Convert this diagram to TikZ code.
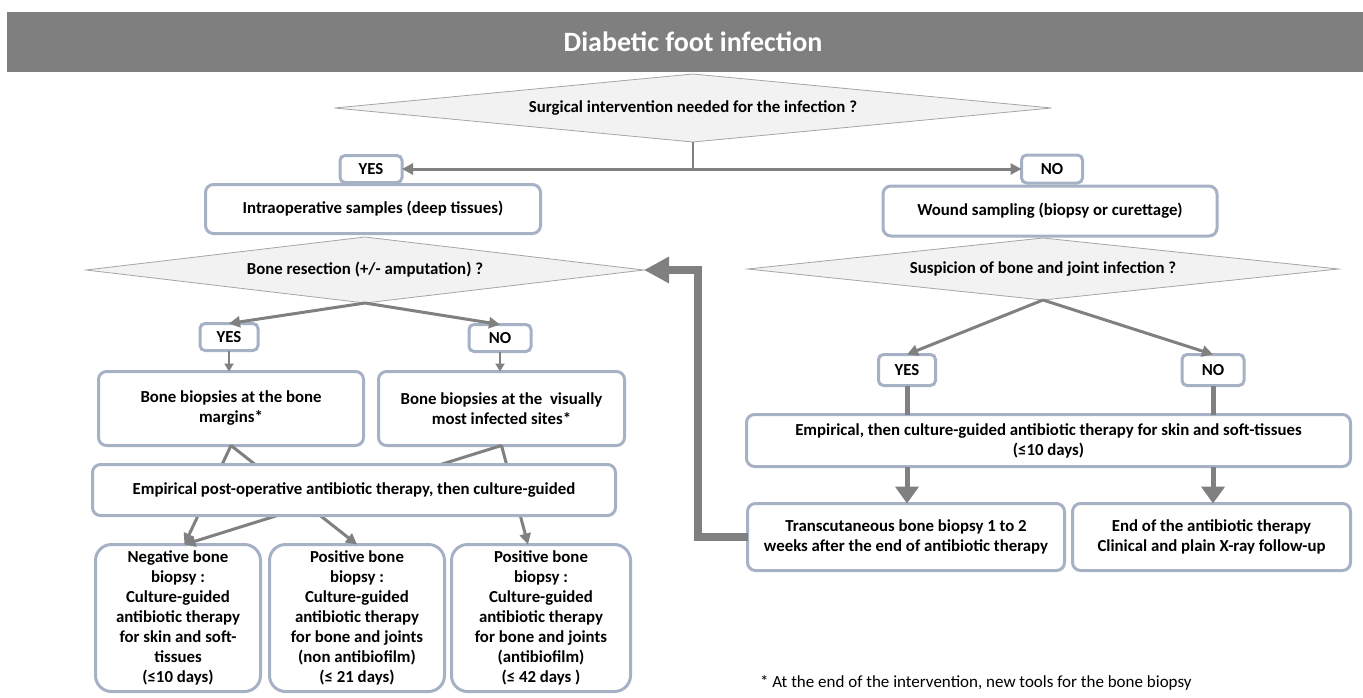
\documentclass[tikz,border=0pt]{standalone}
\usepackage{fontspec}
\setmainfont{Carlito}
\usetikzlibrary{shapes.geometric,arrows.meta}

\definecolor{bargray}{RGB}{127,127,127}
\definecolor{linegray}{RGB}{128,128,128}
\definecolor{boxedge}{RGB}{167,177,197}
\definecolor{diafill}{RGB}{242,242,242}
\definecolor{diaedge}{RGB}{165,165,165}

\begin{document}
\begin{tikzpicture}[x=1pt,y=-1pt,inner sep=0pt,outer sep=0pt,
font=\fontsize{16.8}{20}\selectfont\bfseries,
infobox/.style={draw=boxedge,fill=white,line width=3pt,rounded corners=8pt,rectangle,align=center},
resultbox/.style={infobox,rounded corners=16pt,minimum height=147pt},
choicebox/.style={draw=boxedge,fill=white,line width=3pt,rounded corners=5pt,rectangle},
decision/.style={draw=diaedge,fill=diafill,line width=0.8pt,diamond},
flowarrow/.style={draw=linegray,line width=3pt,-{Triangle[length=11pt,width=11pt]}},
smallarrow/.style={draw=linegray,line width=2.5pt,-{Triangle[length=8pt,width=9pt]}},
stubline/.style={draw=linegray,line width=5pt},
thickarrow/.style={draw=linegray,line width=5pt,-{Triangle[length=17pt,width=23pt]}},
backarrow/.style={draw=linegray,line width=8pt,line join=miter,-{Triangle[length=25pt,width=25pt]}}]

\useasboundingbox (0,0) rectangle (1363,697);

\draw (693,42) node[fill=bargray,minimum width=1372pt,minimum height=60pt,text=white,font=\fontsize{28}{30}\selectfont\bfseries] (title) {Diabetic foot infection};

\draw (693,108) node[decision,shape aspect=10.5,minimum width=717pt,minimum height=68pt] (surg) {Surgical intervention needed for the infection ?};
\coordinate (fork) at (693,169);
\draw (371,169) node[choicebox,minimum width=62pt,minimum height=27pt] (yes1) {YES};
\draw (1052,169) node[choicebox,minimum width=61pt,minimum height=28pt] (no1) {NO};
\draw[draw=linegray,line width=2.5pt] (surg.south) -- (fork);
\draw[flowarrow] (fork) -- (yes1.east);
\draw[flowarrow] (fork) -- (no1.west);

\draw (373,209) node[infobox,minimum width=335pt,minimum height=49pt] (intraop) {Intraoperative samples (deep tissues)};
\draw (1050,211) node[infobox,minimum width=334pt,minimum height=50pt] (wound) {Wound sampling (biopsy or curettage)};

\draw (365,270) node[decision,shape aspect=8.5,minimum width=558pt,minimum height=66pt] (boneres) {Bone resection (+/- amputation)~?};
\draw (1043,269) node[decision,shape aspect=9.5,minimum width=591pt,minimum height=62pt] (suspic) {Suspicion of bone and joint infection~?};

\draw (229,337) node[choicebox,minimum width=58pt,minimum height=27pt] (yes2) {YES};
\draw (500,338) node[choicebox,minimum width=62pt,minimum height=27pt] (no2) {NO};
\draw[flowarrow] (boneres.south) -- (yes2.north);
\draw[flowarrow] (boneres.south) -- (no2.north);

\draw (231,408.5) node[infobox,minimum width=265pt,minimum height=74pt] (biop1) {Bone biopsies at the bone\\margins*};
\draw (501.5,408.5) node[infobox,minimum width=246pt,minimum height=74pt] (biop2) {Bone biopsies at the~ visually\\most infected sites*};
\draw[smallarrow] (yes2.south) -- (yes2.south |- biop1.north);
\draw[smallarrow] (no2.south) -- (no2.south |- biop2.north);

\draw (178,618) node[resultbox,minimum width=165pt] (neg) {Negative bone\\biopsy :\\Culture-guided\\antibiotic therapy\\for skin and soft-\\tissues\\(≤10 days)};
\draw (357,618) node[resultbox,minimum width=175pt] (pos1) {Positive bone\\biopsy :\\Culture-guided\\antibiotic therapy\\for bone and joints\\(non antibiofilm)\\(≤ 21 days)};
\draw (541,618) node[resultbox,minimum width=179pt] (pos2) {Positive bone\\biopsy :\\Culture-guided\\antibiotic therapy\\for bone and joints\\(antibiofilm)\\(≤ 42 days )};
\draw[flowarrow] (biop1.south) -- (neg.85);
\draw[flowarrow] (biop1.south) -- (pos1.north);
\draw[flowarrow] (biop2.south) -- (neg.85);
\draw[flowarrow] (biop2.south) -- (pos2.100);
\draw (354,490) node[infobox,minimum width=523pt,minimum height=51pt] (empop) {Empirical post-operative antibiotic therapy, then culture-guided};

\draw (907,370) node[choicebox,minimum width=57pt,minimum height=31pt] (yes3) {YES};
\draw (1213,370) node[choicebox,minimum width=62pt,minimum height=31pt] (no3) {NO};
\draw[flowarrow] (suspic.south) -- (yes3.north);
\draw[flowarrow] (suspic.south) -- (no3.north);

\draw (1048.5,440.5) node[infobox,minimum width=604pt,minimum height=52pt] (empskin) {Empirical, then culture-guided antibiotic therapy for skin and soft-tissues\\(≤10 days)};
\draw[stubline] (yes3.south) -- (yes3.south |- empskin.north);
\draw[stubline] (no3.south) -- (no3.south |- empskin.north);

\draw (906,537) node[infobox,minimum width=317pt,minimum height=67pt] (transc) {Transcutaneous bone biopsy 1 to 2\\weeks after the end of antibiotic therapy};
\draw (1211.5,537) node[infobox,minimum width=278pt,minimum height=67pt] (endab) {End of the antibiotic therapy\\Clinical and plain X-ray follow-up};
\draw[thickarrow] (yes3.south |- empskin.south) -- (yes3.south |- transc.north);
\draw[thickarrow] (no3.south |- empskin.south) -- (no3.south |- endab.north);

\coordinate (fbturn) at (698,270);
\draw[backarrow] (transc.west) -| (fbturn) -- (boneres.east);

\draw (760,683) node[anchor=west,font=\fontsize{17}{20}\selectfont] (fnote) {* At the end of the intervention, new tools for the bone biopsy};

\end{tikzpicture}
\end{document}
